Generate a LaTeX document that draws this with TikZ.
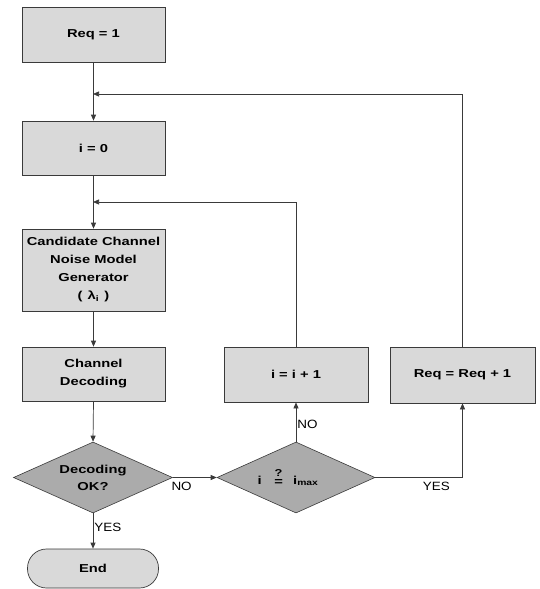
\documentclass[tikz,border=0pt]{standalone}
\usepackage{fontspec}
\setmainfont{Liberation Sans}
\newfontfamily\boxfont{Liberation Sans}[FakeStretch=1.28]
\newfontfamily\labfont{Liberation Sans}[FakeStretch=1.12]
\usetikzlibrary{shapes.geometric,arrows.meta}
\definecolor{boxfill}{HTML}{D9D9D9}
\definecolor{dfill}{HTML}{ABABAB}
\definecolor{linec}{HTML}{3A3A3A}
\tikzset{
  stepbox/.style={rectangle, draw=linec, line width=0.7pt, fill=boxfill, inner sep=0pt,
    align=center, font=\boxfont\bfseries\fontsize{11.5}{18}\selectfont},
  decide/.style={diamond, draw=linec, line width=0.6pt, fill=dfill, inner sep=0pt, aspect=2.24,
    align=center, font=\boxfont\bfseries\fontsize{11.5}{17}\selectfont},
  term/.style={rectangle, rounded corners=19pt, draw=linec, line width=0.7pt, fill=boxfill, inner sep=0pt,
    font=\boxfont\bfseries\fontsize{11.5}{18}\selectfont},
  flow/.style={draw=linec, line width=0.7pt, -{Triangle[length=6pt,width=5pt]}},
  lab/.style={font=\labfont\fontsize{12}{14}\selectfont, inner sep=1pt}
}
\newcommand{\qeq}{\raisebox{-1pt}{\shortstack{\fontsize{10}{8}\selectfont ?\\[0pt]=}}}
\begin{document}
\begin{tikzpicture}[x=1pt,y=-1pt]
\useasboundingbox (0,0) rectangle (540,589);
\node[stepbox, minimum width=143pt, minimum height=55pt] (req1) at (93.5,34.5) {Req = 1};
\node[stepbox, minimum width=143pt, minimum height=54pt] (i0) at (93.5,148) {i = 0};
\node[stepbox, minimum width=143pt, minimum height=82pt] (cand) at (93.5,270)
  {Candidate Channel\\Noise Model\\Generator\\(\hspace{0.45em}λ\textsubscript{i}\hspace{0.45em})};
\node[stepbox, minimum width=143pt, minimum height=54pt] (cdec) at (93.5,374) {Channel\\Decoding};
\node[decide, minimum width=159pt, minimum height=71pt] (dok) at (93,477.5) {Decoding\\OK?};
\node[term, minimum width=131pt, minimum height=39pt] (end) at (93,568.5) {End};
\node[stepbox, minimum width=144pt, minimum height=55pt] (iinc) at (296,374.5) {i = i + 1};
\node[stepbox, minimum width=145pt, minimum height=56pt] (reqinc) at (462.5,375) {Req = Req + 1};
\node[decide, minimum width=158pt, minimum height=71pt] (imax) at (296,477.5)
  {i\hspace{1.1em}\qeq\hspace{0.9em}i\textsubscript{max}\hspace{16pt}};
\coordinate (j1) at (93,202);
\coordinate (j2) at (93,94);
\draw[flow] (req1.south) -- (i0.north);
\draw[flow] (i0.south) -- (cand.north);
\draw[flow] (cand.south) -- (cdec.north);
\draw[flow] (cdec.south) -- (dok.north);
\draw[flow] (dok.south) -- node[lab, right, pos=0.4] (yes1) {YES} (end.north);
\draw[flow] (dok.east) -- node[lab, below, pos=0.2, yshift=-3pt] (no1) {NO} (imax.west);
\draw[flow] (imax.north) -- node[lab, right, pos=0.45] (no2) {NO} (iinc.south);
\draw[flow] (imax.east) -| node[lab, below, pos=0.35, yshift=-3pt] (yes2) {YES} (reqinc.south);
\draw[flow] (iinc.north) |- (j1);
\draw[flow] (reqinc.north) |- (j2);
\end{tikzpicture}
\end{document}
